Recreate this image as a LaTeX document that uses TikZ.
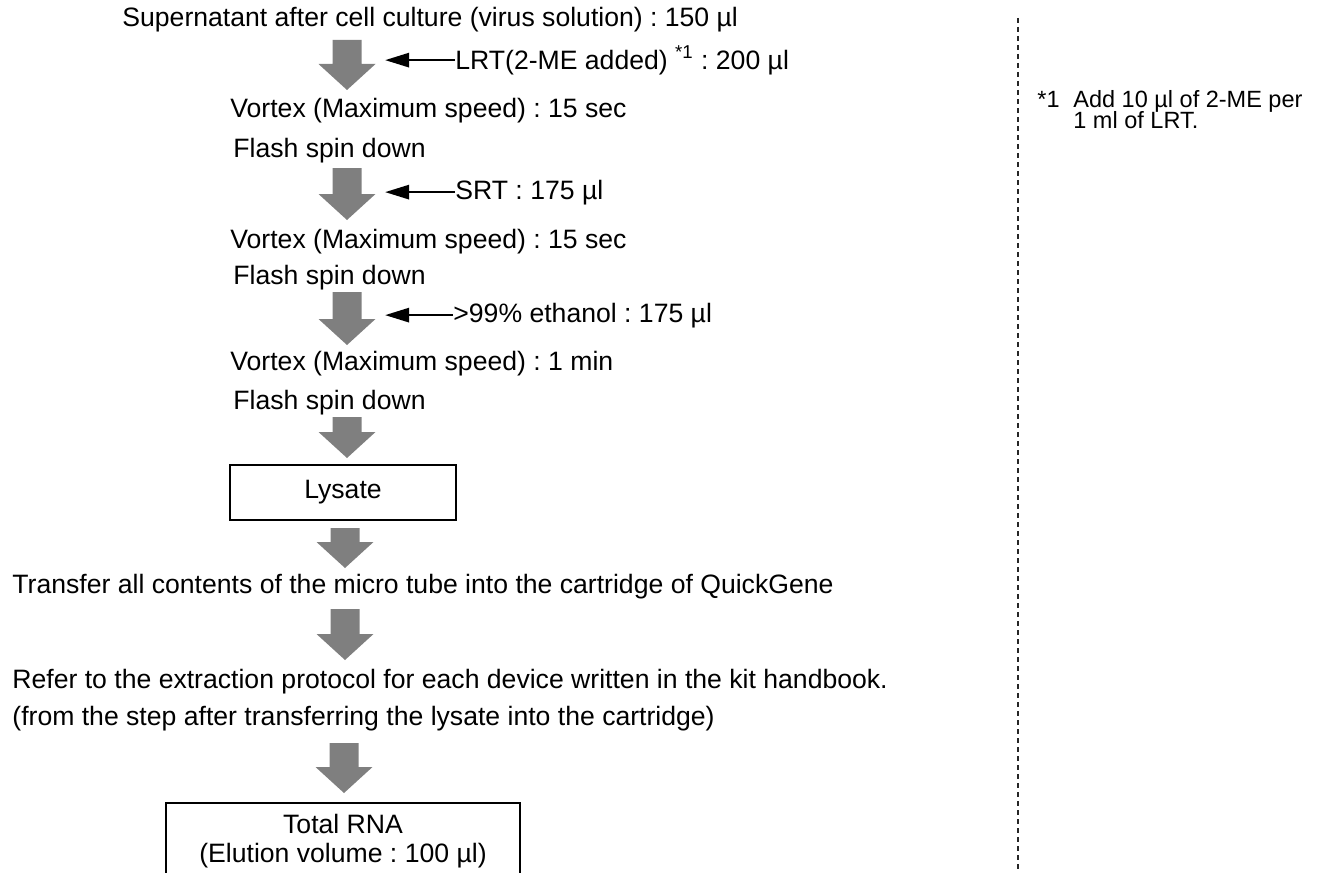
\documentclass[tikz,border=0pt]{standalone}
\usepackage{fontspec}
\setmainfont{Liberation Sans}
\usetikzlibrary{arrows.meta}
\definecolor{flowgray}{HTML}{7F7F7F}
\frenchspacing

\begin{document}
\begin{tikzpicture}[x=0.5pt, y=-0.5pt,
    txt/.style={anchor=base west, inner sep=0pt, font=\fontsize{13.3}{15}\selectfont},
    note/.style={anchor=base west, inner sep=0pt, font=\fontsize{11.75}{10.5}\selectfont},
    stage/.style={draw, line width=0.8pt, inner sep=0pt, align=center, font=\fontsize{13.3}{14.5}\selectfont},
    addarrow/.style={line width=1.35pt, -{Triangle[length=12pt,width=7pt]}},
    pics/flowarrow/.style={code={
        \fill[flowgray] (-14.5,0) -- (-14.5,#1-26) -- (-28.5,#1-26) -- (0,#1)
            -- (28.5,#1-26) -- (14.5,#1-26) -- (14.5,0) -- cycle;}}]
    \useasboundingbox (0,0) rectangle (1320,872);

    % sample and first reagent
    \node[txt] (sample) at (122,27) {Supernatant after cell culture (virus solution) : 150 µl};
    \pic at (347,40) {flowarrow=50};
    \node[txt] (lrt) at (455,69) {LRT(2-ME added) \textsuperscript{*1} : 200 µl};
    \draw[addarrow] (lrt.west) -- ++(-70,0);
    \node[txt] (vortexa) at (230,118) {Vortex (Maximum speed) : 15 sec};
    \node[txt] (spina) at (233,157) {Flash spin down};

    % SRT
    \pic at (347,168) {flowarrow=52};
    \node[txt] (srt) at (455,199) {SRT : 175 µl};
    \draw[addarrow] (srt.west) -- ++(-70,0);
    \node[txt] (vortexb) at (230,248) {Vortex (Maximum speed) : 15 sec};
    \node[txt] (spinb) at (233,284) {Flash spin down};

    % ethanol
    \pic at (347,292) {flowarrow=53};
    \node[txt] (etoh) at (453,322) {>99\% ethanol : 175 µl};
    \draw[addarrow] (etoh.west) -- ++(-68,0);
    \node[txt] (vortexc) at (230,370) {Vortex (Maximum speed) : 1 min};
    \node[txt] (spinc) at (233,409) {Flash spin down};

    % lysate and cartridge
    \pic at (347,417) {flowarrow=41};
    \node[stage, minimum width=113pt, minimum height=27.5pt] (lysate) at (343,492.5) {Lysate};
    \pic at (345,528) {flowarrow=40};
    \node[txt] (transfer) at (12,593) {Transfer all contents of the micro tube into the cartridge of QuickGene};
    \pic at (345,609) {flowarrow=51};
    \node[txt] (refer) at (12,688) {Refer to the extraction protocol for each device written in the kit handbook.};
    \node[txt] (fromstep) at (12,725) {(from the step after transferring the lysate into the cartridge)};
    \pic at (344,743) {flowarrow=50};
    \node[stage, minimum width=177pt, minimum height=38pt] (rna) at (343,841) {Total RNA\\(Elution volume : 100 µl)};

    % footnote column
    \draw[line width=0.6pt, dash pattern=on 2.5pt off 2pt, black!85] (1018,18) -- (1018,872);
    \node[note] (mark) at (1037,107) {*1};
    \node[note] (footnote) at (1073,107) {Add 10 µl of 2-ME per};
    \node[note] (footnotecont) at (1073,128) {1 ml of LRT.};
\end{tikzpicture}
\end{document}
